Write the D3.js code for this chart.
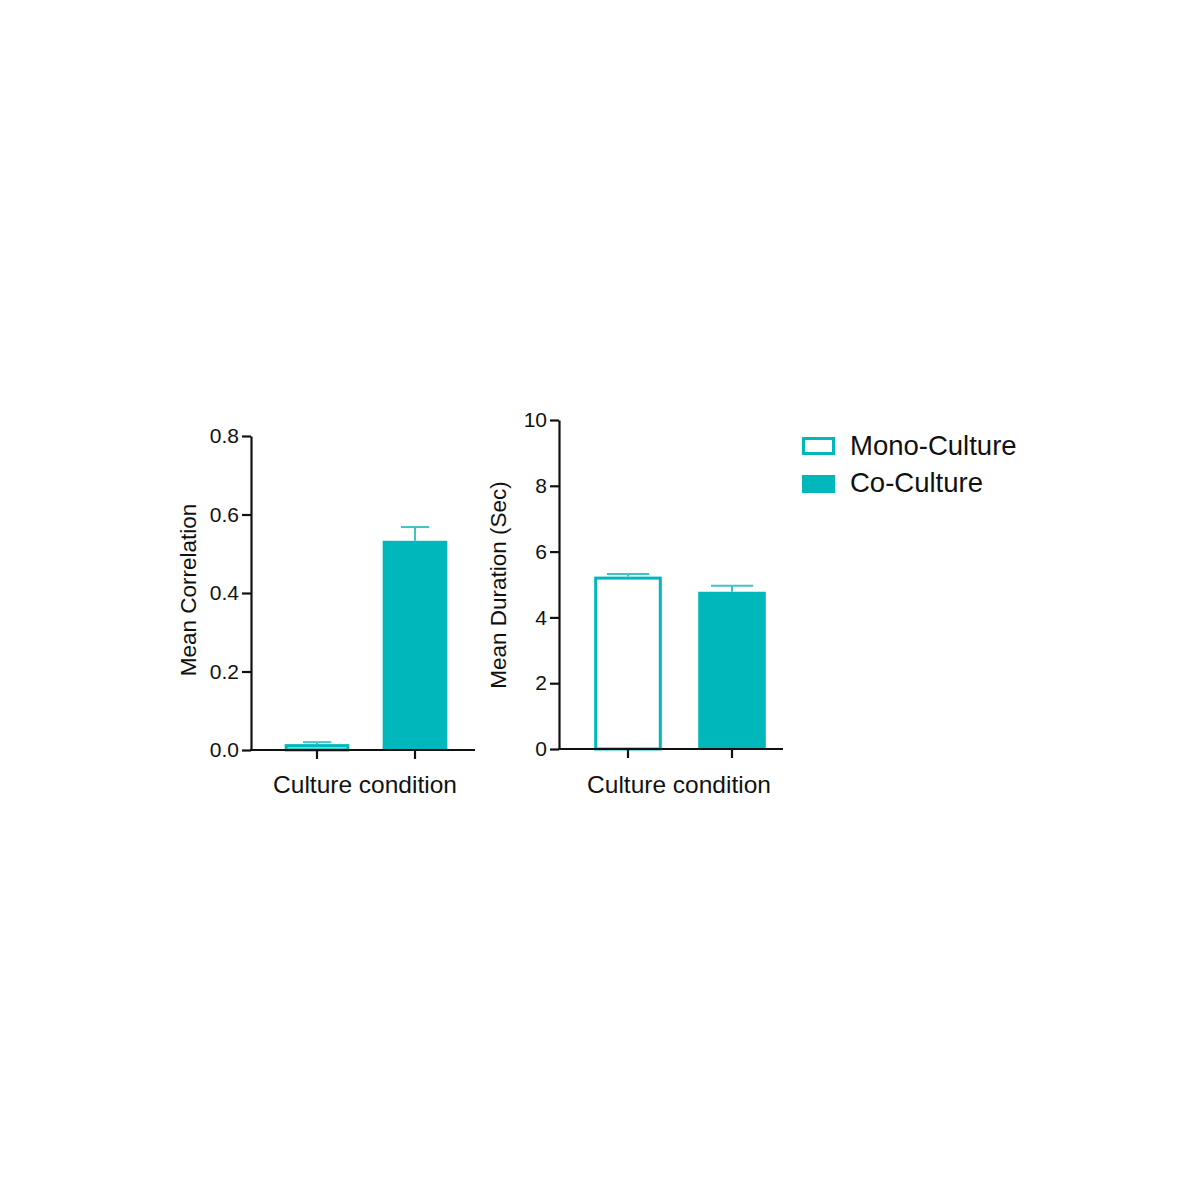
<!DOCTYPE html>
<html>
<head>
<meta charset="utf-8">
<script src="https://cdn.jsdelivr.net/npm/d3@7"></script>
<style>
  body { margin: 0; background: #ffffff; }
  svg { font-family: "Liberation Sans", Arial, sans-serif; }
  .axis path, .axis line { stroke: #111; stroke-width: 2.2; }
  .axis text { fill: #111; font-size: 21px; }
</style>
</head>
<body>
<svg id="chart" width="1200" height="1200"></svg>
<script>
const categories = ["Mono-Culture", "Co-Culture"];
const correlationMean = [0.015, 0.533];
const correlationErr = [0.005, 0.035];
const durationMean = [5.24, 4.78];
const durationErr = [0.08, 0.18];
const correlationTicks = [0, 0.2, 0.4, 0.6, 0.8];
const durationTicks = [0, 2, 4, 6, 8, 10];

const teal = "#00b8bb";
const svg = d3.select("#chart");

function drawPanel(opts) {
    const yScale = d3.scaleLinear().domain(opts.domain).range([opts.y0, opts.y1]);
    const xScale = d3.scaleBand().domain(categories).range(opts.band).padding(0);
    const barW = xScale.bandwidth() * opts.barFrac;

    const data = categories.map((c, i) => ({ cat: c, v: opts.means[i], e: opts.errs[i] }));
    const g = svg.append("g");
    const isMono = d => d.cat === categories[0];

    // error bars, upper half only
    g.selectAll(".err")
        .data(data)
        .enter()
        .append("line")
        .attr("x1", d => xScale(d.cat) + xScale.bandwidth() / 2)
        .attr("x2", d => xScale(d.cat) + xScale.bandwidth() / 2)
        .attr("y1", d => yScale(d.v))
        .attr("y2", d => yScale(d.v + d.e))
        .attr("stroke", "#3fc4c6")
        .attr("stroke-width", 2);

    g.selectAll(".cap")
        .data(data)
        .enter()
        .append("line")
        .attr("x1", d => xScale(d.cat) + xScale.bandwidth() / 2 - opts.cap / 2)
        .attr("x2", d => xScale(d.cat) + xScale.bandwidth() / 2 + opts.cap / 2)
        .attr("y1", d => yScale(d.v + d.e))
        .attr("y2", d => yScale(d.v + d.e))
        .attr("stroke", "#3fc4c6")
        .attr("stroke-width", 2);

    g.selectAll(".bar")
        .data(data)
        .enter()
        .append("rect")
        .attr("x", d => xScale(d.cat) + (xScale.bandwidth() - barW) / 2 + (isMono(d) ? 1.5 : 0))
        .attr("y", d => yScale(d.v) + (isMono(d) ? 1.5 : 0))
        .attr("width", d => isMono(d) ? barW - 3 : barW)
        .attr("height", d => Math.max(0, opts.y0 - yScale(d.v) - (isMono(d) ? 1.5 : 0)))
        .attr("fill", d => isMono(d) ? (opts.monoFill || "#ffffff") : teal)
        .attr("stroke", d => isMono(d) ? teal : "none")
        .attr("stroke-width", 3);

    // axes
    svg.append("g")
        .attr("class", "axis")
        .attr("transform", `translate(${opts.axisX}, 0)`)
        .call(d3.axisLeft(yScale).tickValues(opts.ticks).tickSize(9).tickSizeOuter(0).tickPadding(3).tickFormat(opts.fmt));

    svg.append("g")
        .attr("class", "axis")
        .attr("transform", `translate(0, ${opts.y0})`)
        .call(d3.axisBottom(xScale).tickSize(9).tickSizeOuter(0).tickFormat(""))
        .select(".domain")
        .attr("d", `M${opts.axisX - 1},0H${opts.axisEnd}`);

    svg.append("text")
        .attr("x", opts.xLabelX)
        .attr("y", 793)
        .attr("text-anchor", "middle")
        .attr("font-size", 24.5)
        .attr("fill", "#111")
        .text("Culture condition");

    svg.append("text")
        .attr("transform", `translate(${opts.yLabelX}, ${opts.yLabelY}) rotate(-90)`)
        .attr("text-anchor", "middle")
        .attr("font-size", 22.5)
        .attr("fill", "#111")
        .text(opts.yTitle);
}

drawPanel({
    domain: [0, 0.8], y0: 750, y1: 436,
    band: [268, 464], barFrac: 0.66, cap: 28,
    means: correlationMean, errs: correlationErr,
    ticks: correlationTicks, fmt: d3.format(".1f"),
    axisX: 251, axisEnd: 475,
    xLabelX: 365, yLabelX: 196, yLabelY: 590,
    yTitle: "Mean Correlation", monoFill: "#7fdcdd"
});

drawPanel({
    domain: [0, 10], y0: 749, y1: 420,
    band: [576, 784], barFrac: 0.65, cap: 42,
    means: durationMean, errs: durationErr,
    ticks: durationTicks, fmt: d3.format("d"),
    axisX: 559, axisEnd: 783,
    xLabelX: 679, yLabelX: 506, yLabelY: 585,
    yTitle: "Mean Duration (Sec)"
});

// legend
const legend = svg.append("g").attr("transform", "translate(802, 437)");
legend.selectAll("rect")
    .data(categories)
    .enter()
    .append("rect")
    .attr("x", (d, i) => i === 0 ? 1.5 : 0)
    .attr("y", (d, i) => i * 38 + (i === 0 ? 1.5 : 0))
    .attr("width", (d, i) => i === 0 ? 30 : 33)
    .attr("height", (d, i) => i === 0 ? 15 : 18)
    .attr("fill", (d, i) => i === 0 ? "#ffffff" : teal)
    .attr("stroke", (d, i) => i === 0 ? teal : "none")
    .attr("stroke-width", 3);

legend.selectAll("text")
    .data(categories)
    .enter()
    .append("text")
    .attr("x", 48)
    .attr("y", (d, i) => 18 + i * 37)
    .attr("font-size", 27.5)
    .attr("fill", "#111")
    .text(d => d);
</script>
</body>
</html>
